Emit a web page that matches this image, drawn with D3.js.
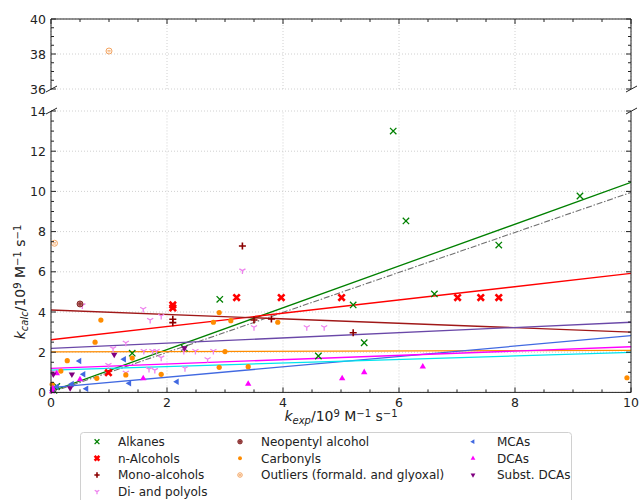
<!DOCTYPE html>
<html><head><meta charset="utf-8">
<script src="https://cdn.jsdelivr.net/npm/d3@7"></script>
<style>body{margin:0;background:#fff;} svg{display:block;font-family:"DejaVu Sans",sans-serif;}</style>
</head><body><svg id="chart" width="639" height="500"></svg>
<script>
// ---------- data ----------
const alkanesX = [5.9, 6.12, 9.12, 7.72, 2.91, 6.61, 5.21, 5.4, 4.61, 2.3, 1.4, 0.05, 0.1];
const alkanesY = [13.0, 8.53, 9.77, 7.33, 4.63, 4.9, 4.35, 2.47, 1.81, 2.2, 1.95, 0.1, 0.3];
const nAlcoholsX = [3.2, 3.97, 5.01, 7.01, 7.41, 7.72, 2.1, 2.1, 0.99];
const nAlcoholsY = [4.72, 4.72, 4.72, 4.72, 4.72, 4.72, 4.35, 4.2, 0.98];
const monoAlcX = [3.3, 2.1, 2.1, 3.5, 3.8, 5.21];
const monoAlcY = [7.28, 3.64, 3.47, 3.6, 3.65, 2.97];
const polyolsX = [3.3, 0.54, 1.59, 1.71, 1.9, 3.5, 4.41, 4.71, 1.29, 1.07, 1.6, 1.75, 1.82, 2.29, 2.49, 2.8, 1.9, 2.7, 0.99, 1.29, 1.69, 1.79, 2.31, 0.05];
const polyolsY = [6.06, 4.33, 4.15, 3.6, 3.8, 3.24, 3.24, 3.24, 2.47, 2.19, 2.06, 2.06, 2.06, 2.06, 2.06, 2.06, 1.73, 1.65, 1.36, 0.98, 1.16, 1.11, 1.2, 1.0];
const neopentylX = [0.5];
const neopentylY = [4.4];
const carbonylsX = [0.86, 0.76, 0.28, 0.17, 0.79, 1.4, 1.29, 1.9, 2.9, 2.8, 3.1, 3.91, 3.0, 2.9, 3.4, 9.93, 0.02];
const carbonylsY = [3.6, 2.5, 1.58, 1.06, 0.7, 1.71, 0.87, 0.9, 3.97, 3.49, 3.57, 3.49, 2.03, 1.25, 1.28, 0.73, 0.4];
const outliersX = [0.06, 1.0];
const outliersY = [7.42, 38.17];
const mcasX = [0.49, 1.26, 0.56, 0.61, 0.36, 0.1, 1.35, 2.17, 0.03];
const mcasY = [1.56, 1.65, 0.9, 0.18, 0.42, 0.28, 0.45, 0.53, 0.1];
const dcasX = [1.59, 0.5, 3.4, 5.02, 5.4, 6.41, 0.1, 0.03, 0.02];
const dcasY = [0.7, 0.65, 0.42, 0.7, 1.0, 1.28, 0.95, 0.2, 0.05];
const substX = [1.09, 0.04, 0.36, 0.33, 2.3];
const substY = [1.88, 0.9, 0.9, 0.22, 2.2];

// fitted lines: value at x=0 and at x=10
const fitNames = ["Alkanes", "1:1", "n-Alcohols", "Mono-alcohols", "Di- and polyols", "Carbonyls", "MCAs", "DCAs", "All"];
const fitStart = [0.05, 0.0, 2.62, 4.1, 2.19, 2.02, 0.24, 1.2, 1.11];
const fitEnd = [10.45, 9.95, 5.92, 3.0, 3.49, 2.09, 2.82, 2.27, 1.99];
const fitColors = ["#008000", "#707070", "#ff0000", "#a01818", "#6a48a8", "#ff8c00", "#4169e1", "#ff00ff", "#00e5ee"];

const xTicks = [0, 2, 4, 6, 8, 10];
const yTicksBottom = [0, 2, 4, 6, 8, 10, 12, 14];
const yTicksTop = [36, 38, 40];

const legendLabels = ["Alkanes", "n-Alcohols", "Mono-alcohols", "Di- and polyols", "Neopentyl alcohol", "Carbonyls", "Outliers (formald. and glyoxal)", "MCAs", "DCAs", "Subst. DCAs"];

// ---------- scales ----------
const svg = d3.select("#chart");
const x = d3.scaleLinear().domain([0, 10]).range([51, 631]);
const yB = d3.scaleLinear().domain([0, 14]).range([392.4, 111]);
const yT = d3.scaleLinear().domain([36, 40]).range([89, 19]);

const gridColor = "#c4c4c4";
// grid
function grid(yS, yticks) {
  const g = svg.append("g");
  const [y0, y1] = yS.range();
  xTicks.forEach(t => g.append("line").attr("x1", x(t)).attr("x2", x(t)).attr("y1", y0).attr("y2", y1)
    .attr("stroke", gridColor).attr("stroke-width", 0.8).attr("stroke-dasharray", "1,2"));
  yticks.forEach(t => g.append("line").attr("x1", 51).attr("x2", 631).attr("y1", yS(t)).attr("y2", yS(t))
    .attr("stroke", gridColor).attr("stroke-width", 0.8).attr("stroke-dasharray", "1,2"));
}
grid(yB, yTicksBottom);
grid(yT, yTicksTop);

// clip for bottom panel
svg.append("clipPath").attr("id", "clipB").append("rect").attr("x", 51).attr("y", 111).attr("width", 580).attr("height", 281.4);
svg.append("clipPath").attr("id", "clipT").append("rect").attr("x", 51).attr("y", 19).attr("width", 580).attr("height", 70);

// fit lines
const lineG = svg.append("g").attr("clip-path", "url(#clipB)");
fitNames.forEach((n, i) => {
  const l = lineG.append("line").attr("x1", x(0)).attr("y1", yB(fitStart[i])).attr("x2", x(10)).attr("y2", yB(fitEnd[i]))
    .attr("stroke", fitColors[i]).attr("stroke-width", n === "1:1" ? 1.1 : 1.3);
  if (n === "1:1") l.attr("stroke-dasharray", "6,1.8,1.5,1.8");
});

// ---------- markers ----------
function marker(g, type, cx, cy, color, s) {
  s = s || 1;
  const r = 3.2 * s;
  if (type === "x") {
    g.append("path").attr("d", `M${cx - r},${cy - r}L${cx + r},${cy + r}M${cx - r},${cy + r}L${cx + r},${cy - r}`)
      .attr("stroke", color).attr("stroke-width", 1.3).attr("fill", "none");
  } else if (type === "X") {
    g.append("path").attr("d", `M${cx - r},${cy - r}L${cx + r},${cy + r}M${cx - r},${cy + r}L${cx + r},${cy - r}`)
      .attr("stroke", color).attr("stroke-width", 2.6).attr("fill", "none");
  } else if (type === "+") {
    const q = r * 1.1;
    g.append("path").attr("d", `M${cx - q},${cy}L${cx + q},${cy}M${cx},${cy - q}L${cx},${cy + q}`)
      .attr("stroke", color).attr("stroke-width", 1.6).attr("fill", "none");
  } else if (type === "tri") {
    const q = r * 1.1;
    g.append("path").attr("d", `M${cx},${cy}L${cx},${cy + q}M${cx},${cy}L${cx + 0.866 * q},${cy - 0.5 * q}M${cx},${cy}L${cx - 0.866 * q},${cy - 0.5 * q}`)
      .attr("stroke", color).attr("stroke-width", 1.3).attr("fill", "none");
  } else if (type === "dot") {
    g.append("circle").attr("cx", cx).attr("cy", cy).attr("r", 2.6 * s).attr("fill", color);
  } else if (type === "neo") {
    g.append("circle").attr("cx", cx).attr("cy", cy).attr("r", 3 * s).attr("fill", "#c07070").attr("stroke", "#7a2020").attr("stroke-width", 0.9);
    g.append("path").attr("d", `M${cx - 2.2 * s},${cy}L${cx + 2.2 * s},${cy}M${cx},${cy - 2.2 * s}L${cx},${cy + 2.2 * s}`)
      .attr("stroke", "#7a2020").attr("stroke-width", 0.8);
  } else if (type === "out") {
    g.append("circle").attr("cx", cx).attr("cy", cy).attr("r", 3 * s).attr("fill", "none").attr("stroke", "#f4a460").attr("stroke-width", 1);
    g.append("path").attr("d", `M${cx - 1.6 * s},${cy - 0.6 * s}L${cx + 1.6 * s},${cy - 0.6 * s}M${cx - 1.6 * s},${cy + 0.8 * s}L${cx + 1.6 * s},${cy + 0.8 * s}`)
      .attr("stroke", "#f4a460").attr("stroke-width", 0.8);
  } else {
    const q = r * 1.15;
    let pts;
    if (type === "<") pts = [[cx - q, cy], [cx + 0.5 * q, cy - 0.866 * q], [cx + 0.5 * q, cy + 0.866 * q]];
    if (type === "^") pts = [[cx, cy - q], [cx + 0.866 * q, cy + 0.5 * q], [cx - 0.866 * q, cy + 0.5 * q]];
    if (type === "v") pts = [[cx, cy + q], [cx + 0.866 * q, cy - 0.5 * q], [cx - 0.866 * q, cy - 0.5 * q]];
    g.append("path").attr("d", "M" + pts.map(p => p.join(",")).join("L") + "Z").attr("fill", color);
  }
}

const series = [
  { xs: alkanesX, ys: alkanesY, type: "x", color: "#008000" },
  { xs: nAlcoholsX, ys: nAlcoholsY, type: "X", color: "#ff0000" },
  { xs: monoAlcX, ys: monoAlcY, type: "+", color: "#8b0000" },
  { xs: polyolsX, ys: polyolsY, type: "tri", color: "#ee82ee" },
  { xs: neopentylX, ys: neopentylY, type: "neo", color: "#a05050" },
  { xs: carbonylsX, ys: carbonylsY, type: "dot", color: "#ff8c00" },
  { xs: outliersX, ys: outliersY, type: "out", color: "#f4a460" },
  { xs: mcasX, ys: mcasY, type: "<", color: "#4169e1" },
  { xs: dcasX, ys: dcasY, type: "^", color: "#ff00ff" },
  { xs: substX, ys: substY, type: "v", color: "#800080" }
];

const markG = svg.append("g");
series.forEach(s => {
  s.xs.forEach((xv, i) => {
    const yv = s.ys[i];
    const py = yv >= 36 ? yT(yv) : yB(yv);
    marker(markG, s.type, x(xv), py, s.color, 1);
  });
});

// ---------- axes / spines ----------
const axG = svg.append("g").attr("stroke", "#222").attr("stroke-width", 1);
const spine = (x1, y1, x2, y2) => axG.append("line").attr("x1", x1).attr("y1", y1).attr("x2", x2).attr("y2", y2);
// top panel
spine(51, 19, 631, 19); spine(51, 19, 51, 89); spine(631, 19, 631, 89);
// bottom panel
spine(51, 392.4, 631, 392.4); spine(51, 111, 51, 392.4); spine(631, 111, 631, 392.4);

const xMinor = d3.range(0, 10.01, 0.5);
xMinor.forEach(t => {
  const major = Math.abs(t - Math.round(t / 2) * 2) < 1e-6;
  const L = major ? 5 : 3;
  spine(x(t), 392.4, x(t), 392.4 - L);
  spine(x(t), 19, x(t), 19 + L);
});
function yTicksDraw(yS, lo, hi) {
  d3.range(lo, hi + 0.01, 0.5).forEach(t => {
    const major = Math.abs(t - Math.round(t / 2) * 2) < 1e-6;
    const L = major ? 5 : 3;
    spine(51, yS(t), 51 + L, yS(t));
    spine(631, yS(t), 631 - L, yS(t));
  });
}
yTicksDraw(yB, 0, 14);
yTicksDraw(yT, 36, 40);

// break marks
[[51, 89], [631, 89], [51, 111], [631, 111]].forEach(([bx, by]) => {
  spine(bx - 5, by + 3, bx + 6, by - 3);
});

// tick labels
const tl = svg.append("g").attr("font-size", 12.5).attr("fill", "#222");
xTicks.forEach(t => tl.append("text").attr("x", x(t)).attr("y", 407).attr("text-anchor", "middle").text(t));
yTicksBottom.forEach(t => tl.append("text").attr("x", 46).attr("y", yB(t) + 4.5).attr("text-anchor", "end").text(t));
yTicksTop.forEach(t => tl.append("text").attr("x", 46).attr("y", yT(t) + 4.5).attr("text-anchor", "end").text(t));

// axis labels
function axisLabel(t, sub) {
  t.append("tspan").attr("font-style", "italic").text("k");
  t.append("tspan").attr("font-style", "italic").attr("font-size", 10).attr("baseline-shift", "-25%").text(sub);
  t.append("tspan").text("/10");
  t.append("tspan").attr("font-size", 10).attr("baseline-shift", "40%").text("9");
  t.append("tspan").text(" M");
  t.append("tspan").attr("font-size", 10).attr("baseline-shift", "40%").text("−1");
  t.append("tspan").text(" s");
  t.append("tspan").attr("font-size", 10).attr("baseline-shift", "40%").text("−1");
}
const xl = svg.append("text").attr("x", 341).attr("y", 421).attr("text-anchor", "middle").attr("font-size", 14).attr("fill", "#222");
axisLabel(xl, "exp");
const yl = svg.append("text").attr("transform", "translate(25,282) rotate(-90)").attr("text-anchor", "middle").attr("font-size", 14).attr("fill", "#222");
axisLabel(yl, "calc");

// ---------- legend ----------
const lg = svg.append("g");
lg.append("rect").attr("x", 80.5).attr("y", 432.5).attr("width", 491).attr("height", 80).attr("rx", 3)
  .attr("fill", "#fff").attr("fill-opacity", 0.8).attr("stroke", "#d0d0d0").attr("stroke-width", 1);
const colMarkX = [97, 240, 473];
const colTextX = [118, 261, 497];
const rowY = [441.7, 458.3, 475, 491.6];
const cols = [[0, 1, 2, 3], [4, 5, 6], [7, 8, 9]];
cols.forEach((c, ci) => {
  c.forEach((si, ri) => {
    const s = series[si];
    marker(lg, s.type, colMarkX[ci], rowY[ri], s.color, 0.75);
    lg.append("text").attr("x", colTextX[ci]).attr("y", rowY[ri] + 4.3).attr("font-size", 12).attr("fill", "#222").text(legendLabels[si]);
  });
});
</script>
</body></html>
